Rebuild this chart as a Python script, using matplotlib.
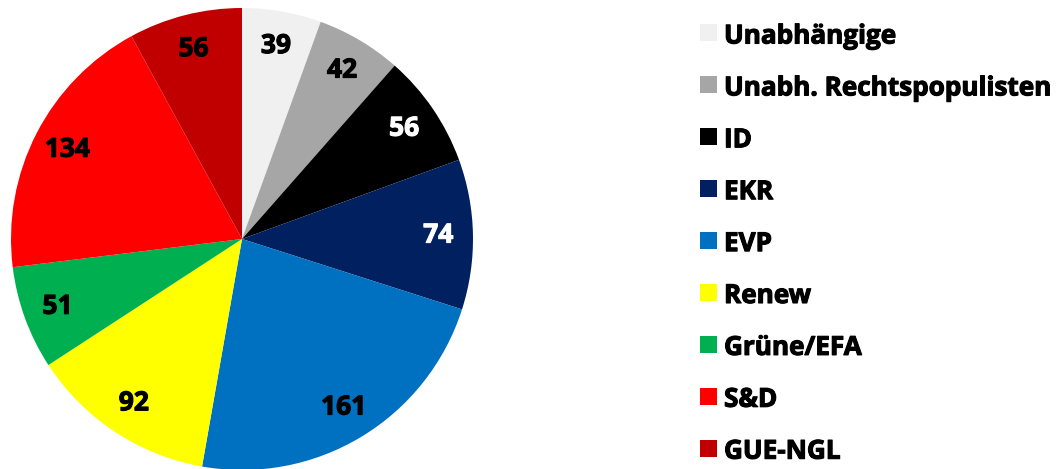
import matplotlib.pyplot as plt
import matplotlib.patheffects as pe
from matplotlib.patches import Rectangle

# Sitzverteilung
parties = ["Unabhängige", "Unabh. Rechtspopulisten", "ID", "EKR", "EVP",
           "Renew", "Grüne/EFA", "S&D", "GUE-NGL"]
seats = [39, 42, 56, 74, 161, 92, 51, 134, 56]
colors = ["#f0f0f0", "#a6a6a6", "#000000", "#002060", "#0070c0",
          "#ffff00", "#00b050", "#ff0000", "#c00000"]
label_colors = ["black", "black", "white", "white", "black",
                "black", "black", "black", "black"]

total = sum(seats)
font = "Open Sans"


def fett(color):
    # Open Sans ist nur als variable Schrift da -> mit Kontur "fett" machen
    return [pe.withStroke(linewidth=0.8, foreground=color)]


fig = plt.figure(figsize=(10.6, 4.69), dpi=100)

# pie axes: centre (242, 239) px, radius 231 px
r_px = 231
ax = fig.add_axes([(242 - r_px) / 1060, (230 - r_px) / 469, 2 * r_px / 1060, 2 * r_px / 469])

wedges, texts, autotexts = ax.pie(
    seats, colors=colors, startangle=90, counterclock=False,
    autopct=lambda p: f"{round(p * total / 100)}", pctdistance=0.85,
    wedgeprops=dict(linewidth=0),
    textprops=dict(family=font, fontweight="bold", fontsize=19),
)
for t, c in zip(autotexts, label_colors):
    t.set_color(c)
    t.set_path_effects(fett(c))
ax.set_xlim(-1, 1)
ax.set_ylim(-1, 1)

# Legende von Hand
sq = 17
y0 = 469 - 33
step = 51.9
for i, (name, col) in enumerate(zip(parties, colors)):
    yc = y0 - i * step
    fig.add_artist(Rectangle((700 / 1060, (yc - sq / 2) / 469), sq / 1060, sq / 469,
                             transform=fig.transFigure, facecolor=col, edgecolor="none"))
    fig.text(724 / 1060, yc / 469, name, ha="left", va="center_baseline",
             family=font, fontweight="bold", fontsize=18.8, color="black",
             path_effects=fett("black"))

fig.savefig("out.png", dpi=100)
